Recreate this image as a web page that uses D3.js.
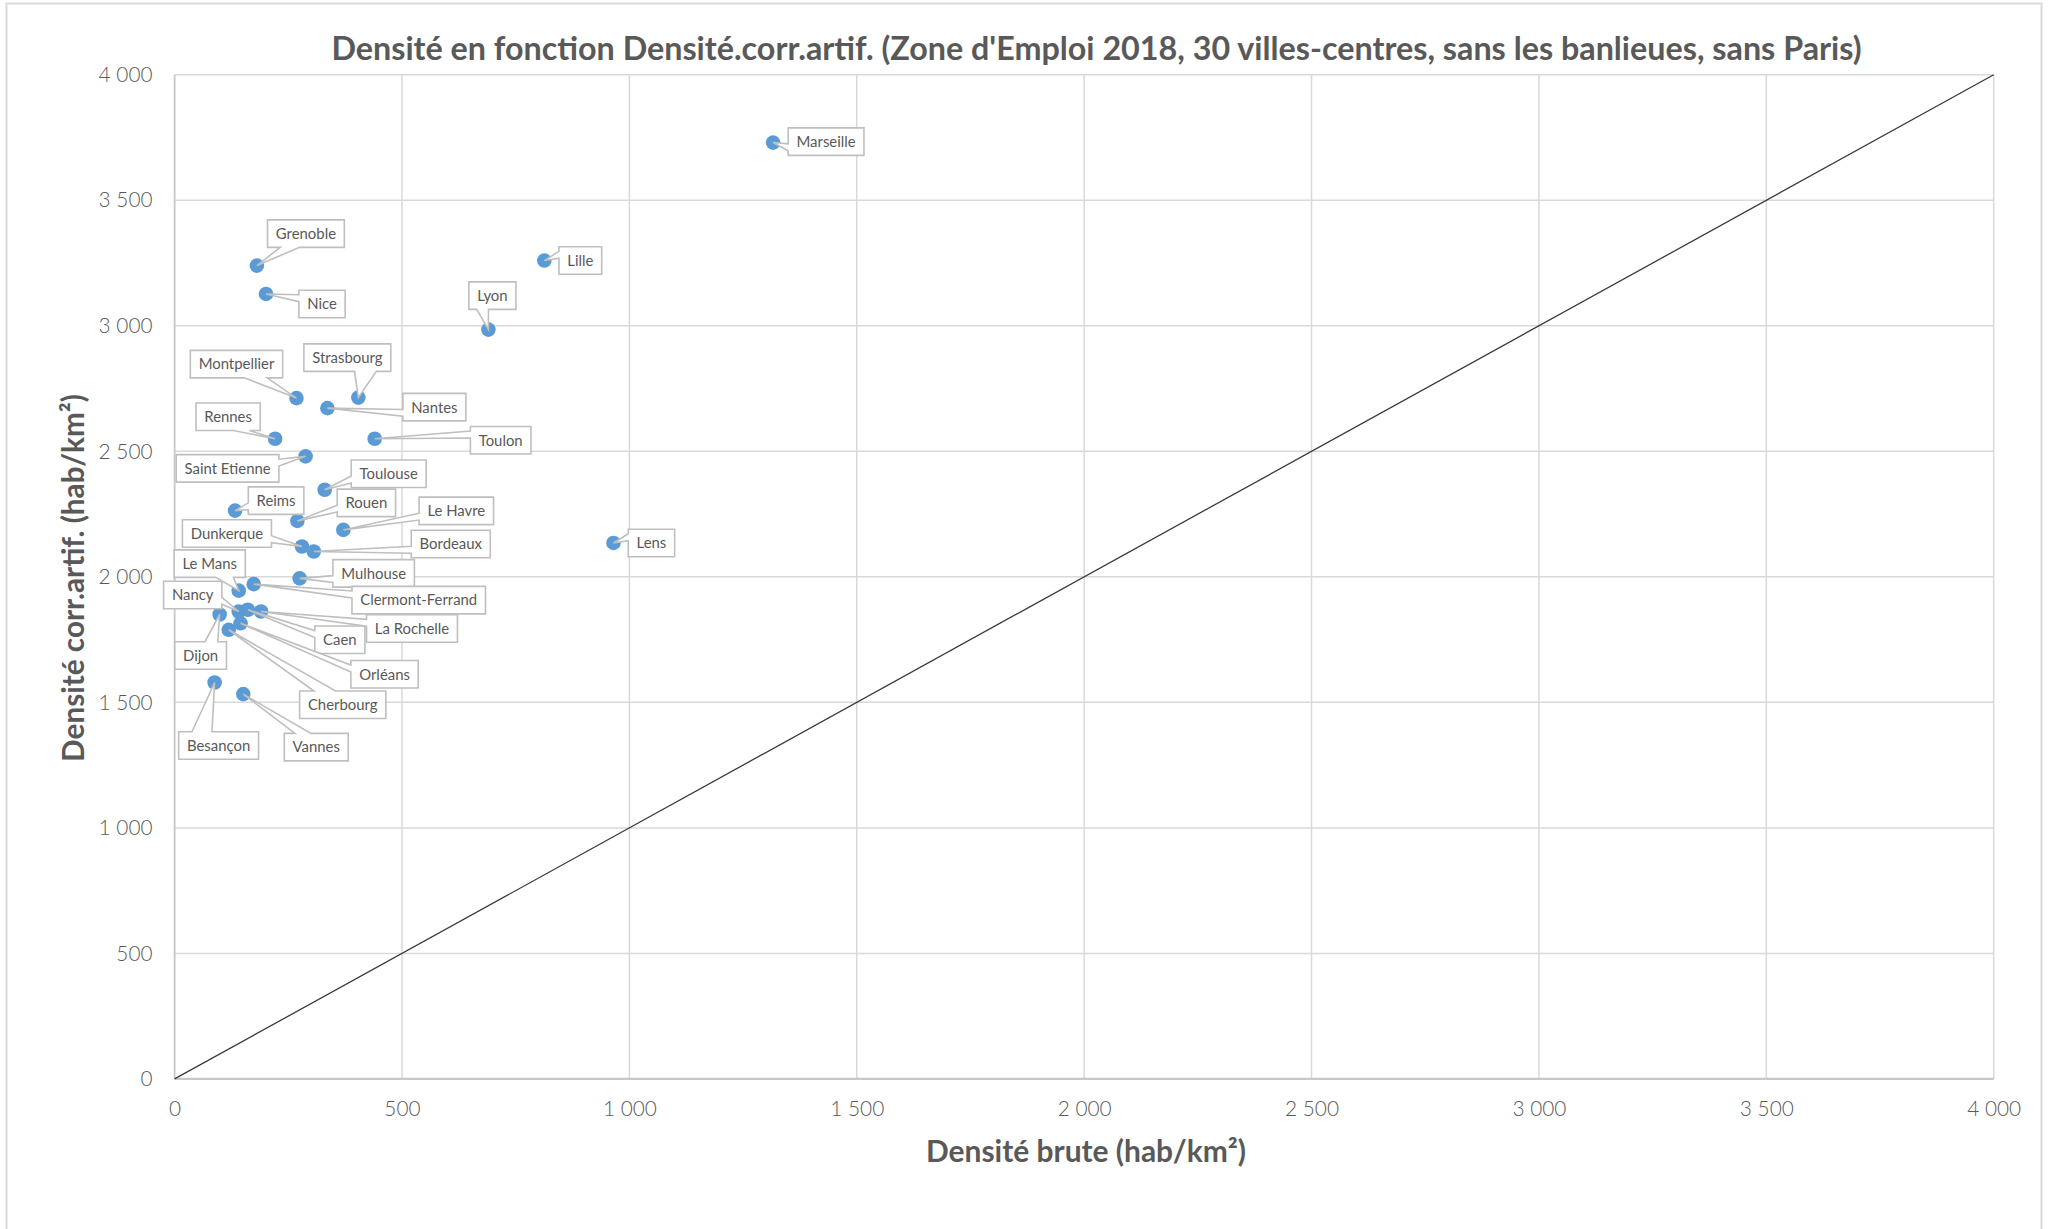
<!DOCTYPE html>
<html>
<head>
<meta charset="utf-8">
<script src="https://cdn.jsdelivr.net/npm/d3@7"></script>
<style>
  html, body { margin: 0; padding: 0; background: #ffffff; }
  svg { display: block; }
  text { font-family: Lato, "Open Sans", "DejaVu Sans", sans-serif; }
</style>
</head>
<body>
<svg id="chart" width="2058" height="1229"></svg>
<script>
// Villes-centres des zones d'emploi 2018 (hors Paris)
const cities = [
  "Marseille", "Grenoble", "Nice", "Lille", "Lyon", "Montpellier", "Strasbourg",
  "Nantes", "Rennes", "Toulon", "Saint Etienne", "Toulouse", "Reims", "Rouen",
  "Le Havre", "Dunkerque", "Bordeaux", "Lens", "Mulhouse", "Clermont-Ferrand",
  "Le Mans", "Nancy", "Caen", "La Rochelle", "Dijon", "Orléans", "Cherbourg",
  "Besançon", "Vannes"
];
// Densité brute (hab/km²)
const densiteBrute = [
  1316, 181, 201, 813, 690, 268, 404,
  336, 221, 440, 288, 330, 133, 270,
  371, 280, 306, 965, 275, 174,
  141, 141, 161, 190, 99, 145, 119,
  88, 151
];
// Densité corrigée de l'artificialisation (hab/km²)
const densiteCorrArtif = [
  3730, 3240, 3127, 3260, 2985, 2712, 2714,
  2672, 2550, 2550, 2480, 2347, 2264, 2223,
  2187, 2121, 2101, 2135, 1994, 1971,
  1945, 1862, 1869, 1862, 1850, 1815, 1789,
  1579, 1533
];
const xTicks = [0, 500, 1000, 1500, 2000, 2500, 3000, 3500, 4000];
const yTicks = [0, 500, 1000, 1500, 2000, 2500, 3000, 3500, 4000];
const axisMax = 4000;

// Position of each callout box centre relative to its point (px)
const calloutOffsets = {
  "Marseille": [53, -1], "Grenoble": [49, -32], "Nice": [56, 10], "Lille": [36, 0],
  "Lyon": [4, -34], "Montpellier": [-60, -34], "Strasbourg": [-11, -40],
  "Nantes": [107, -1], "Rennes": [-47, -22], "Toulon": [126, 1.5],
  "Saint Etienne": [-78, 12], "Toulouse": [64, -16], "Reims": [41, -10],
  "Rouen": [69, -18], "Le Havre": [113, -19], "Dunkerque": [-75, -13],
  "Bordeaux": [137, -7.5], "Lens": [38, 0], "Mulhouse": [74, -5],
  "Clermont-Ferrand": [165, 16], "Le Mans": [-29, -27], "Nancy": [-46, -16.5],
  "Caen": [92, 30], "La Rochelle": [151, 17], "Dijon": [-19, 41],
  "Orléans": [144, 51], "Cherbourg": [114, 75], "Besançon": [4, 63],
  "Vannes": [73, 53]
};

const svg = d3.select("#chart");
const plot = { left: 174.6, right: 1993.7, top: 74.8, bottom: 1078.9 };

const x = d3.scaleLinear().domain([0, axisMax]).range([plot.left, plot.right]);
const y = d3.scaleLinear().domain([0, axisMax]).range([plot.bottom, plot.top]);

const fr = d3.formatLocale({ decimal: ",", thousands: " ", grouping: [3], currency: ["", " €"] });
const fmt = fr.format(",d");

const textColor = "#595959";
const gridColor = "#d9d9d9";

// Chart area frame
svg.append("rect")
  .attr("x", 6.5).attr("y", 3.5).attr("width", 2035).attr("height", 1260)
  .attr("fill", "#ffffff").attr("stroke", "#d9d9d9").attr("stroke-width", 2);

// Gridlines
const grid = svg.append("g");
grid.selectAll("line.v").data(xTicks).join("line")
  .attr("x1", d => x(d)).attr("x2", d => x(d))
  .attr("y1", plot.top).attr("y2", plot.bottom)
  .attr("stroke", gridColor).attr("stroke-width", 1.5);
grid.selectAll("line.h").data(yTicks).join("line")
  .attr("x1", plot.left).attr("x2", plot.right)
  .attr("y1", d => y(d)).attr("y2", d => y(d))
  .attr("stroke", gridColor).attr("stroke-width", 1.5);

// Axis lines
svg.append("line")
  .attr("x1", plot.left).attr("x2", plot.left).attr("y1", plot.top).attr("y2", plot.bottom)
  .attr("stroke", "#c8c8c8").attr("stroke-width", 1.6);
svg.append("line")
  .attr("x1", plot.left).attr("x2", plot.right).attr("y1", plot.bottom).attr("y2", plot.bottom)
  .attr("stroke", "#c8c8c8").attr("stroke-width", 2.4);

// Tick labels (d3 axes without domain path or tick marks)
const tickFontSize = 21;
const yAxis = svg.append("g")
  .attr("transform", `translate(${plot.left},0)`)
  .call(d3.axisLeft(y).tickValues(yTicks).tickFormat(fmt).tickSize(0).tickPadding(22));
const xAxis = svg.append("g")
  .attr("transform", `translate(0,${plot.bottom})`)
  .call(d3.axisBottom(x).tickValues(xTicks).tickFormat(fmt).tickSize(0).tickPadding(22));
[xAxis, yAxis].forEach(g => {
  g.select(".domain").remove();
  g.selectAll("text")
    .attr("fill", textColor)
    .style("font-family", "Lato, 'Open Sans', sans-serif")
    .style("font-weight", 300)
    .style("font-size", tickFontSize + "px");
});
// Scale tick font so that "4 000" spans ~54px
{
  const t = yAxis.selectAll("text").filter(d => d === 4000).node();
  const w = t.getComputedTextLength();
  const fs = tickFontSize * 54 / w;
  [xAxis, yAxis].forEach(g => g.selectAll("text").style("font-size", fs + "px"));
}

// Identity line y = x
svg.append("line")
  .attr("x1", x(0)).attr("y1", y(0)).attr("x2", x(axisMax)).attr("y2", y(axisMax))
  .attr("stroke", "#3a3a3a").attr("stroke-width", 1.3);

// Points
const data = cities.map((c, i) => ({ city: c, bx: densiteBrute[i], cy: densiteCorrArtif[i] }));
svg.append("g").selectAll("circle").data(data).join("circle")
  .attr("cx", d => x(d.bx)).attr("cy", d => y(d.cy)).attr("r", 7.3)
  .attr("fill", "#5b9bd5");

// Helper: fit a text element's font size to a target width
function fitWidth(sel, target) {
  const fs = parseFloat(sel.style("font-size"));
  const w = sel.node().getComputedTextLength();
  sel.style("font-size", (fs * target / w) + "px");
}

// Callout labels (rectangle with wedge pointing to the point)
function calloutPath(x0, y0, w, h, tx, ty) {
  const cx = x0 + w / 2, cy = y0 + h / 2;
  const dxPos = tx - cx, dyPos = ty - cy;
  const horiz = Math.abs(dxPos) * h > Math.abs(dyPos) * w;
  const xa = x0 + w * (dxPos > 0 ? 7 : 2) / 12, xb = x0 + w * (dxPos > 0 ? 10 : 5) / 12;
  const ya = y0 + h * (dyPos > 0 ? 7 : 2) / 12, yb = y0 + h * (dyPos > 0 ? 10 : 5) / 12;
  const r = x0 + w, b = y0 + h;
  let p = `M${x0},${y0}`;
  if (!horiz && dyPos < 0) p += `L${xa},${y0}L${tx},${ty}L${xb},${y0}`;
  p += `L${r},${y0}`;
  if (horiz && dxPos > 0) p += `L${r},${ya}L${tx},${ty}L${r},${yb}`;
  p += `L${r},${b}`;
  if (!horiz && dyPos > 0) p += `L${xb},${b}L${tx},${ty}L${xa},${b}`;
  p += `L${x0},${b}`;
  if (horiz && dxPos < 0) p += `L${x0},${yb}L${tx},${ty}L${x0},${ya}`;
  return p + "Z";
}

const labels = svg.append("g");
// Font size: "Clermont-Ferrand" ≈ 117px wide
const probe = labels.append("text").text("Clermont-Ferrand").style("font-size", "16px");
fitWidth(probe, 117);
const labelFont = probe.style("font-size");
probe.remove();

const boxH = 27.5, padX = 8.3;
data.forEach(d => {
  const px = x(d.bx), py = y(d.cy);
  const [ox, oy] = calloutOffsets[d.city];
  const g = labels.append("g");
  const path = g.append("path");
  const t = g.append("text")
    .text(d.city)
    .style("font-size", labelFont)
    .attr("fill", textColor)
    .attr("text-anchor", "middle")
    .attr("x", px + ox).attr("y", py + oy).attr("dy", "0.36em");
  const w = t.node().getComputedTextLength() + 2 * padX;
  path.attr("d", calloutPath(px + ox - w / 2, py + oy - boxH / 2, w, boxH, px, py))
    .attr("fill", "#ffffff").attr("stroke", "#bfbfbf").attr("stroke-width", 1.6)
    .attr("stroke-linejoin", "miter");
});

// Titles
const title = svg.append("text")
  .text("Densité en fonction Densité.corr.artif. (Zone d'Emploi 2018, 30 villes-centres, sans les banlieues, sans Paris)")
  .attr("x", 1096.5).attr("y", 60).attr("text-anchor", "middle")
  .attr("fill", textColor).style("font-weight", 700).style("font-size", "30px");
fitWidth(title, 1531);

const xTitle = svg.append("text")
  .text("Densité brute (hab/km²)")
  .attr("x", 1086).attr("y", 1162).attr("text-anchor", "middle")
  .attr("fill", textColor).style("font-weight", 700).style("font-size", "30px");
fitWidth(xTitle, 320);

const yTitle = svg.append("text")
  .text("Densité corr.artif. (hab/km²)")
  .attr("transform", "translate(84,578) rotate(-90)")
  .attr("text-anchor", "middle")
  .attr("fill", textColor).style("font-weight", 700).style("font-size", "30px");
fitWidth(yTitle, 368);
</script>
</body>
</html>
